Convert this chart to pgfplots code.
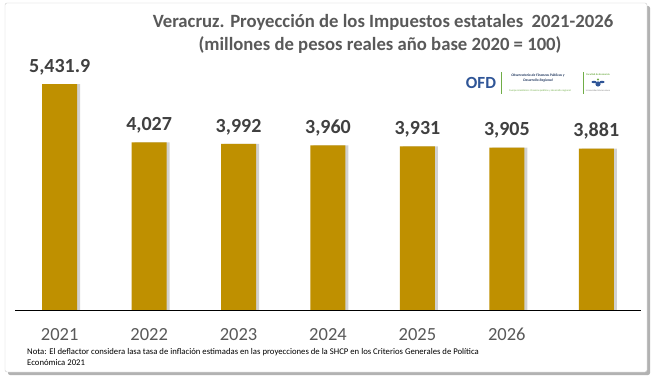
\documentclass[border=0pt]{standalone}
\usepackage{pgfplots}
\pgfplotsset{compat=1.18}
\usepackage{fontspec}
\setmainfont{Carlito}
\definecolor{barc}{HTML}{BF9000}
\definecolor{ttl}{HTML}{595959}
\definecolor{lbl}{HTML}{404040}
\definecolor{ofd}{HTML}{2F5597}
\definecolor{ofdg}{HTML}{70AD47}
\begin{document}
\begin{tikzpicture}
\useasboundingbox (0pt,0pt) rectangle (656pt,383pt);
% frame with shadow
\fill[black!30,rounded corners=2pt] (8pt,8pt) rectangle (650pt,377pt);
\filldraw[fill=white,draw=black!20,rounded corners=2pt] (5pt,11pt) rectangle (647pt,380pt);
% title
\node[font=\fontsize{18.7}{22}\selectfont\bfseries, text=ttl, inner sep=0] at (383pt,361pt) {Veracruz. Proyección de los Impuestos estatales \ 2021-2026};
\node[font=\fontsize{18.7}{22}\selectfont\bfseries, text=ttl, inner sep=0] at (380pt,338pt) {(millones de pesos reales año base 2020 = 100)};
% logo
\node[font=\fontsize{17}{17}\selectfont\bfseries, text=ofd, inner sep=0] at (481pt,300pt) {OFD};
\draw[ofdg, line width=0.5pt] (501pt,289pt) -- (501pt,311pt);
\node[font=\fontsize{3.6}{4.4}\selectfont\bfseries\itshape, text=ofd!60!black, align=center, inner sep=0] at (538pt,305pt) {Observatorio de Finanzas Públicas y\\Desarrollo Regional};
\node[font=\fontsize{2.6}{3}\selectfont, text=ofdg, inner sep=0] at (540pt,292pt) {Cuerpo Académico: Finanzas públicas y desarrollo regional};
\draw[ofdg, line width=0.5pt] (583pt,289pt) -- (583pt,311pt);
\node[font=\fontsize{2.6}{3}\selectfont\bfseries, text=ofdg, inner sep=0] at (598pt,308pt) {Facultad de Economía};
\fill[ofd] (598pt,299pt) circle (2.6pt);
\fill[ofd] (594pt,301pt) ellipse (2.5pt and 1.2pt);
\fill[ofd] (602pt,301pt) ellipse (2.5pt and 1.2pt);
\fill[ofdg] (598pt,303.5pt) circle (1.2pt);
\node[font=\fontsize{2.4}{3}\selectfont, text=black!50, inner sep=0] at (598pt,292pt) {Universidad Veracruzana};
% note
\node[font=\fontsize{8.7}{10.5}\selectfont, text=black, anchor=base west, inner sep=0] at (27pt,28pt) {Nota: El deflactor considera lasa tasa de inflación estimadas en las proyecciones de la SHCP en los Criterios Generales de Política};
\node[font=\fontsize{8.7}{10.5}\selectfont, text=black, anchor=base west, inner sep=0] at (27pt,18pt) {Económica 2021};
\begin{scope}[shift={(15pt,73pt)}]
\begin{axis}[
  at={(0pt,0pt)}, anchor=south west,
  scale only axis, width=626pt, height=249.6pt,
  xmin=-0.5, xmax=6.5, ymin=0, ymax=6000,
  axis line style={draw=none},
  ytick=\empty,
  xtick={0,1,2,3,4,5},
  xticklabels={2021,2022,2023,2024,2025,2026},
  xtick style={draw=none},
  xticklabel style={font=\fontsize{18.5}{20}\selectfont, text=ttl, inner sep=0pt, yshift=-18pt},
  extra y ticks={0},
  extra y tick labels={},
  extra y tick style={grid=major, major grid style={draw=black, line width=0.8pt}, tick style={draw=none}},
  clip=false,
]
\addplot[ybar, bar width=35pt, bar shift=3pt, fill=black, fill opacity=0.18, draw=none, forget plot]
  coordinates {(0,5431.9) (1,4027) (2,3992) (3,3960) (4,3931) (5,3905) (6,3881)};
\addplot[ybar, bar width=35pt, bar shift=0pt, fill=barc, draw=none,
  point meta=explicit symbolic,
  nodes near coords,
  every node near coord/.append style={font=\fontsize{20}{24}\selectfont\bfseries, text=lbl, anchor=south, inner sep=0pt, yshift=9pt}]
  coordinates {(0,5431.9)[5{,}431.9] (1,4027)[4{,}027] (2,3992)[3{,}992] (3,3960)[3{,}960] (4,3931)[3{,}931] (5,3905)[3{,}905] (6,3881)[3{,}881]};
\end{axis}
\end{scope}
\end{tikzpicture}
\end{document}
